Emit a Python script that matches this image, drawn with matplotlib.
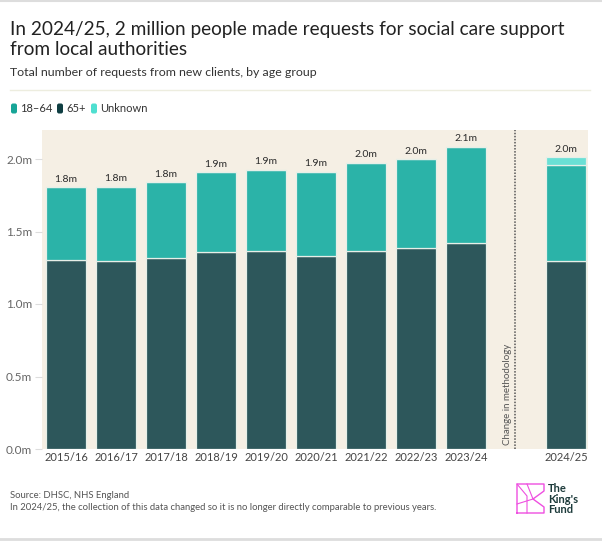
import numpy as np
import matplotlib.pyplot as plt
from matplotlib.patches import FancyBboxPatch

plt.rcParams['font.family'] = ['Lato', 'DejaVu Sans']

# -------- data (millions) --------
years = ["2015/16", "2016/17", "2017/18", "2018/19", "2019/20",
         "2020/21", "2021/22", "2022/23", "2023/24", "2024/25"]
age_65 = [1.303, 1.299, 1.315, 1.359, 1.363, 1.333, 1.363, 1.388, 1.423, 1.299]
age_18_64 = [0.502, 0.510, 0.524, 0.549, 0.563, 0.580, 0.612, 0.610, 0.660, 0.662]
unknown = [0, 0, 0, 0, 0, 0, 0, 0, 0, 0.051]
totals = ["1.8m", "1.8m", "1.8m", "1.9m", "1.9m", "1.9m", "2.0m", "2.0m", "2.1m", "2.0m"]
xpos = [0, 1, 2, 3, 4, 5, 6, 7, 8, 10]

C_1864 = "#2bb3a8"
C_65 = "#2d575b"
C_UNK = "#6ae0d5"
BG = "#f5efe4"

W, H = 602, 541
fig = plt.figure(figsize=(W / 100, H / 100), dpi=100)
fig.patch.set_facecolor("white")

# overlay in pixel coords for decorations
ov = fig.add_axes([0, 0, 1, 1])
ov.set_xlim(0, W)
ov.set_ylim(H, 0)
ov.axis("off")

# -------- main axes --------
L, R, T, B = 42, 588, 130, 449
ax = fig.add_axes([L / W, 1 - B / H, (R - L) / W, (B - T) / H])
ax.set_facecolor(BG)

bw = 0.8
edge = dict(edgecolor="#e6efe8", linewidth=0.9)
ax.bar(xpos, age_65, bw, color=C_65, **edge, zorder=2)
ax.bar(xpos, age_18_64, bw, bottom=age_65, color=C_1864, **edge, zorder=2)
bot2 = np.array(age_65) + np.array(age_18_64)
ax.bar(xpos, unknown, bw, bottom=bot2, color=C_UNK, **edge, zorder=2)

tops = bot2 + np.array(unknown)
for x, t, lab in zip(xpos, tops, totals):
    ax.text(x, t + 0.025, lab, ha="center", va="bottom", fontsize=7.5,
            color="#2a2a2a", zorder=3)

# change in methodology divider
ax.axvline(8.97, color="#555555", linestyle=(0, (1, 1)), linewidth=1.1, zorder=1)
ax.text(8.83, 0.03, "Change in methodology", rotation=90, ha="center",
        va="bottom", fontsize=7, color="#555555")

ax.set_xlim(-0.48, 10.44)
ax.set_ylim(0, 2.2)
ax.set_xticks(xpos)
ax.set_xticklabels(years, fontsize=8, color="#444444")
ax.tick_params(axis="x", length=0, pad=2.5)
ax.set_yticks([0, 0.5, 1.0, 1.5, 2.0])
ax.set_yticklabels(["0.0m", "0.5m", "1.0m", "1.5m", "2.0m"], fontsize=8.5,
                   color="#666666")
ax.tick_params(axis="y", length=5, color="#dddddd", pad=2)
for s in ax.spines.values():
    s.set_visible(False)

# -------- titles --------
ov.text(10, 35, "In 2024/25, 2 million people made requests for social care support",
        fontsize=13.7, color="#222222", va="baseline", ha="left")
ov.text(10, 55, "from local authorities",
        fontsize=13.7, color="#222222", va="baseline", ha="left")
ov.text(10, 72, "Total number of requests from new clients, by age group",
        fontsize=8.9, color="#333333", va="center", ha="left")
ov.plot([10, 590], [90, 90], color="#ededdf", linewidth=1)

# legend
leg_items = [("18–64", "#17a597", 11), ("65+", "#0f3e42", 57), ("Unknown", "#4fdfd0", 91)]
for lab, col, x0 in leg_items:
    ov.add_patch(FancyBboxPatch((x0, 103.5), 6, 10, boxstyle="round,pad=0,rounding_size=2",
                                facecolor=col, edgecolor="none"))
    ov.text(x0 + 9, 109, lab, fontsize=8, color="#333333", va="center", ha="left")

# -------- footer --------
ov.text(10, 496, "Source: DHSC, NHS England", fontsize=6.8, color="#555555",
        va="center", ha="left")
ov.text(10, 508,
        "In 2024/25, the collection of this data changed so it is no longer directly comparable to previous years.",
        fontsize=6.8, color="#555555", va="center", ha="left")

# logo
pink = "#ee4fe0"
kx = [517, 517, 527, 544, 544, 533, 544, 544, 527, 517]
ky = [513, 484, 484, 484, 491, 499, 507, 513, 513, 513]
ov.plot(kx, ky, color=pink, linewidth=1)
ov.plot([517, 527, 527], [484, 496, 513], color=pink, linewidth=0.8)
ov.plot([517, 533, 527], [504, 499, 484], color=pink, linewidth=0.8)
ov.text(548, 483, "The\nKing's\nFund", fontsize=8, fontweight="bold", color="#1d3b3b",
        va="top", ha="left", linespacing=0.95)

ov.plot([0, W], [539, 539], color="#dddddd", linewidth=2)
ov.plot([0, W], [0.5, 0.5], color="#dddddd", linewidth=1.5)

fig.savefig("out.png", dpi=100, facecolor="white")
